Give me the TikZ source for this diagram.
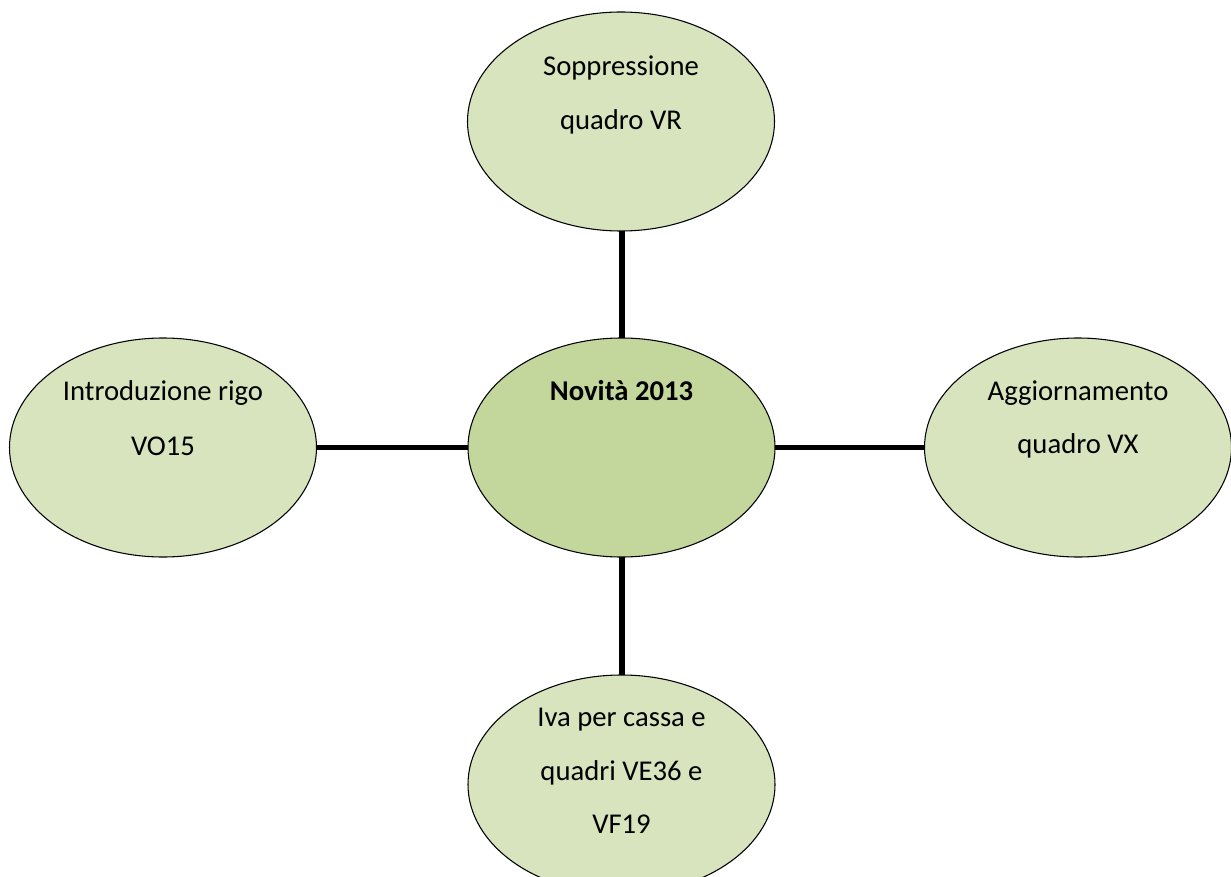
\documentclass[tikz,border=0pt]{standalone}
\usepackage{fontspec}
\setmainfont{Carlito}
\usetikzlibrary{shapes.geometric}
\definecolor{outerfill}{HTML}{D7E4BD}
\definecolor{centerfill}{HTML}{C3D69B}
\tikzset{
  bubble/.style={ellipse, draw=black, line width=0.8pt, fill=outerfill,
    minimum width=230.25pt, minimum height=164.25pt, inner sep=0pt, outer sep=0pt},
  hub/.style={bubble, fill=centerfill},
  txt/.style={anchor=base, inner sep=0pt, font=\fontsize{21.5}{26}\selectfont},
  link/.style={line width=3.8pt, black}
}
\begin{document}
\begin{tikzpicture}[x=0.75pt,y=-0.75pt]
\useasboundingbox (0,0) rectangle (1231,877);
\node[bubble] (top) at (621,121.5) {};
\node[hub] (ctr) at (621.5,447.5) {};
\node[bubble] (left) at (163,447.5) {};
\node[bubble] (right) at (1078,447.5) {};
\node[bubble] (bot) at (621.5,784.5) {};
\draw[link] (622,0 |- top.south) -- (622,0 |- ctr.north);
\draw[link] (622,0 |- ctr.south) -- (622,0 |- bot.north);
\draw[link] (left.east) -- (ctr.west);
\draw[link] (ctr.east) -- (right.west);
\node[txt] (t1) at (621,76) {Soppressione};
\node[txt] (t2) at (621,130) {quadro VR};
\node[txt,font=\fontsize{21.5}{26}\selectfont\bfseries] (c1) at (621.5,400) {Novità 2013};
\node[txt] (l1) at (163,400) {Introduzione rigo};
\node[txt] (l2) at (163,455) {VO15};
\node[txt] (r1) at (1078,400) {Aggiornamento};
\node[txt] (r2) at (1078,453) {quadro VX};
\node[txt] (b1) at (621.5,726) {Iva per cassa e};
\node[txt] (b2) at (621.5,780) {quadri VE36 e};
\node[txt] (b3) at (621.5,833) {VF19};
\end{tikzpicture}
\end{document}
